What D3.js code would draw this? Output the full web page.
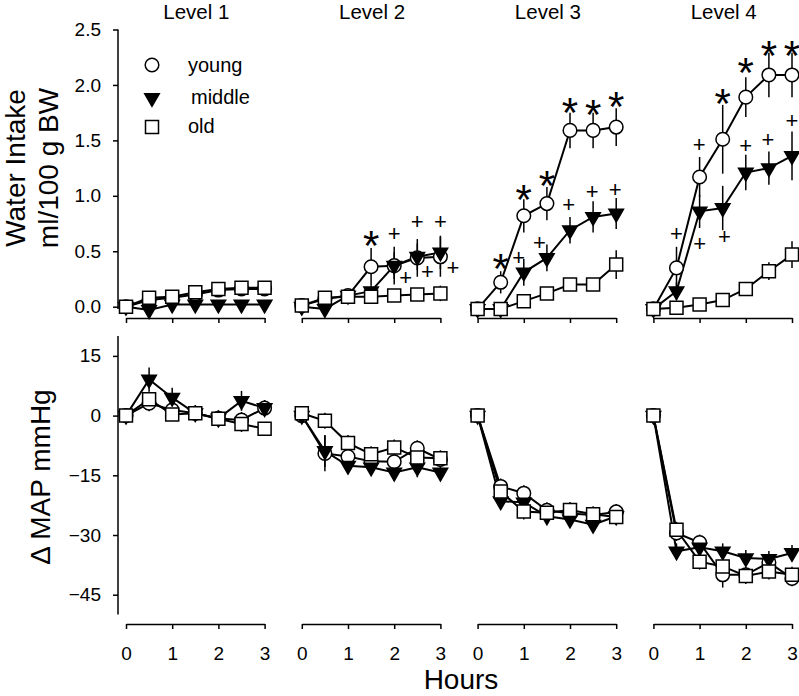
<!DOCTYPE html>
<html>
<head>
<meta charset="utf-8">
<script src="https://cdn.jsdelivr.net/npm/d3@7"></script>
<style>
  html, body { margin: 0; padding: 0; background: #fff; }
  svg { display: block; }
  text { font-family: "Liberation Sans", Arial, sans-serif; fill: #000; }
</style>
</head>
<body>
<svg id="chart" width="799" height="696"></svg>
<script>
// ---------------- DATA ----------------
const hours = [0, 0.5, 1, 1.5, 2, 2.5, 3];
const levels = ["Level 1", "Level 2", "Level 3", "Level 4"];
const groups = ["young", "middle", "old"];
const waterTicks = [0, 0.5, 1.0, 1.5, 2.0, 2.5];
const mapTicks = [15, 0, -15, -30, -45];
const hourTicks = [0, 1, 2, 3];

// Water intake (ml/100 g BW), one row per level
const waterYoung = [
  [0, 0.06, 0.08, 0.11, 0.15, 0.16, 0.16],
  [0.01, 0.07, 0.10, 0.36, 0.37, 0.44, 0.45],
  [-0.02, 0.22, 0.82, 0.93, 1.59, 1.59, 1.62],
  [-0.02, 0.35, 1.17, 1.51, 1.89, 2.09, 2.09]
];
const waterYoungErr = [
  [0.02, 0.04, 0.04, 0.05, 0.05, 0.05, 0.05],
  [0.02, 0.03, 0.03, 0.17, 0.17, 0.17, 0.18],
  [0.02, 0.10, 0.15, 0.15, 0.16, 0.16, 0.17],
  [0.02, 0.19, 0.18, 0.31, 0.18, 0.20, 0.20]
];
const waterMiddle = [
  [0, -0.03, 0.02, 0.02, 0.02, 0.02, 0.02],
  [0, -0.02, 0.10, 0.14, 0.37, 0.45, 0.49],
  [-0.02, -0.02, 0.31, 0.44, 0.69, 0.81, 0.84],
  [-0.02, 0.14, 0.86, 0.89, 1.21, 1.25, 1.36]
];
const waterMiddleErr = [
  [0.01, 0.02, 0.02, 0.02, 0.02, 0.02, 0.02],
  [0.02, 0.03, 0.03, 0.05, 0.12, 0.12, 0.15],
  [0.02, 0.02, 0.12, 0.12, 0.12, 0.14, 0.14],
  [0.02, 0.08, 0.15, 0.20, 0.16, 0.15, 0.22]
];
const waterOld = [
  [0, 0.08, 0.09, 0.13, 0.16, 0.17, 0.17],
  [0.01, 0.08, 0.09, 0.09, 0.10, 0.11, 0.12],
  [-0.02, -0.02, 0.05, 0.12, 0.20, 0.20, 0.38],
  [-0.02, -0.01, 0.02, 0.06, 0.16, 0.32, 0.47]
];
const waterOldErr = [
  [0.02, 0.03, 0.04, 0.05, 0.05, 0.06, 0.06],
  [0.02, 0.03, 0.03, 0.04, 0.04, 0.04, 0.07],
  [0.02, 0.03, 0.03, 0.04, 0.05, 0.05, 0.13],
  [0.02, 0.02, 0.03, 0.04, 0.05, 0.08, 0.12]
];

// Change in MAP (mmHg)
const mapYoung = [
  [0, 3.1, 1.4, 0.6, -0.7, -1.1, 1.9],
  [0, -9.5, -10.3, -11.5, -11.6, -8.2, -11.0],
  [0, -17.8, -19.5, -23.8, -24.6, -25.0, -24.2],
  [0, -29.5, -31.9, -40.0, -40.0, -36.9, -40.9]
];
const mapYoungErr = [
  [1.5, 2, 2, 2, 2, 2, 2],
  [1.5, 4.5, 2, 2, 2, 2, 2],
  [1.5, 2, 2, 2, 2, 2, 2],
  [1.5, 2, 2, 3.2, 2, 2, 2]
];
const mapMiddle = [
  [0, 9.1, 4.5, 0.6, -0.7, 3.7, 1.9],
  [0, -8.9, -12.6, -13.0, -14.3, -13.0, -14.3],
  [0, -21.5, -21.8, -25.3, -26.1, -27.4, -25.3],
  [0, -34.1, -33.1, -34.1, -35.8, -36.0, -34.5]
];
const mapMiddleErr = [
  [1.5, 3, 2.5, 2, 2, 2.5, 2],
  [1.5, 4, 2, 2, 2, 2.5, 2],
  [1.5, 2, 2, 2, 2, 2, 2],
  [1.5, 2, 2, 2, 2, 2, 2]
];
const mapOld = [
  [0, 4.1, 0.3, 0.6, -0.8, -2.1, -3.3],
  [0.6, -1.3, -6.9, -9.7, -8.0, -10.5, -10.7],
  [0, -19.1, -24.1, -24.4, -23.7, -24.8, -25.5],
  [0, -28.7, -36.7, -37.9, -40.3, -39.2, -40.0]
];
const mapOldErr = [
  [1.5, 2, 1.5, 1.5, 2, 2, 1.5],
  [1.5, 2, 2, 2, 2, 2, 2],
  [1.5, 2, 2, 2, 2, 2, 2],
  [1.5, 2, 2, 2, 2, 2, 2]
];

// significance marks [level index, hour, value]
const starMarks = [
  [1, 1.5, 0.66],
  [2, 0.5, 0.45], [2, 1, 1.07], [2, 1.5, 1.2], [2, 2, 1.86], [2, 2.5, 1.84], [2, 3, 1.91],
  [3, 1.5, 1.94], [3, 2, 2.22], [3, 2.5, 2.37], [3, 3, 2.37]
];
const plusMarks = [
  [1, 2, 0.66], [1, 2.5, 0.77], [1, 3, 0.77], [1, 2.25, 0.26], [1, 2.72, 0.32], [1, 3.27, 0.35],
  [2, 0.89, 0.44], [2, 1.34, 0.58], [2, 1.97, 0.92], [2, 2.48, 1.04], [2, 2.98, 1.06],
  [3, 0.5, 0.66], [3, 0.99, 1.46], [3, 1.0, 0.57], [3, 1.54, 0.63], [3, 2.0, 1.45], [3, 2.48, 1.51], [3, 3.0, 1.68]
];

// ---------------- LAYOUT ----------------
const svg = d3.select("#chart");
const FONT = '"Liberation Sans", Arial, sans-serif';
const panelStep = 175.8, panelX0 = 126, panelW = 138.6;
const yAxisX = 118;

const yWater = d3.scaleLinear().domain([0, 2.5]).range([306.7, 29.5]);
const yMap = d3.scaleLinear().domain([-45, 15]).range([594.7, 355.9]);
const topAxisY = 318, botAxisY = 624;

const xScales = levels.map((_, i) =>
  d3.scaleLinear().domain([0, 3]).range([panelX0 + i * panelStep, panelX0 + i * panelStep + panelW]));

// marker generators
const sym = {
  young: d3.symbol().type(d3.symbolCircle).size(Math.PI * 6.8 * 6.8),
  middle: d3.symbol().type(d3.symbolTriangle).size(Math.sqrt(3) / 4 * 14.5 * 14.5),
  old: d3.symbol().type(d3.symbolSquare).size(13 * 13)
};
function drawMarker(g, type, x, y) {
  const p = g.append("path")
    .attr("d", sym[type]())
    .attr("stroke", "#000")
    .attr("stroke-width", 1.5)
    .attr("fill", type === "middle" ? "#000" : "#fff");
  if (type === "middle") p.attr("transform", `translate(${x},${y}) rotate(180)`);
  else p.attr("transform", `translate(${x},${y})`);
}

// ---------------- AXES ----------------
const gyTop = svg.append("g").attr("transform", `translate(${yAxisX},0)`)
  .call(d3.axisLeft(yWater).tickValues(waterTicks).tickFormat(d3.format(".1f")).tickSize(5).tickPadding(12).tickSizeOuter(0));
gyTop.select(".domain").attr("d", `M0,${yWater(-0.02)}V${yWater(2.5)}`);
const gyBot = svg.append("g").attr("transform", `translate(${yAxisX},0)`)
  .call(d3.axisLeft(yMap).tickValues(mapTicks).tickFormat(d3.format("d")).tickSize(5).tickPadding(12).tickSizeOuter(0));
gyBot.select(".domain").attr("d", `M0,${yMap(20)}V${yMap(-50)}`);

[gyTop, gyBot].forEach(g => {
  g.selectAll(".domain, line").attr("stroke", "#000").attr("stroke-width", 1.5);
  g.selectAll("text").attr("font-family", FONT).attr("font-size", 19).attr("fill", "#000");
});

xScales.forEach((xs, i) => {
  const gt = svg.append("g").attr("transform", `translate(0,${topAxisY})`)
    .call(d3.axisBottom(xs).tickValues(hourTicks).tickFormat("").tickSize(5).tickSizeOuter(0));
  const gb = svg.append("g").attr("transform", `translate(0,${botAxisY})`)
    .call(d3.axisBottom(xs).tickValues(hourTicks).tickFormat(d3.format("d")).tickSize(5).tickPadding(18).tickSizeOuter(0));
  [gt, gb].forEach(g => {
    g.selectAll(".domain, line").attr("stroke", "#000").attr("stroke-width", 1.5);
    g.selectAll("text").attr("font-family", FONT).attr("font-size", 19).attr("fill", "#000");
  });
  svg.append("text")
    .attr("x", (xs.range()[0] + xs.range()[1]) / 2 + 1)
    .attr("y", 19)
    .attr("text-anchor", "middle")
    .attr("font-size", 20.5)
    .text(levels[i]);
});

// axis titles
svg.append("text")
  .attr("transform", `translate(25,${168}) rotate(-90)`)
  .attr("text-anchor", "middle").attr("font-size", 28).text("Water Intake");
svg.append("text")
  .attr("transform", `translate(58,${168}) rotate(-90)`)
  .attr("text-anchor", "middle").attr("font-size", 28).text("ml/100 g BW");
svg.append("text")
  .attr("transform", `translate(50,${477}) rotate(-90)`)
  .attr("text-anchor", "middle").attr("font-size", 28).text("\u0394 MAP mmHg");
svg.append("text")
  .attr("x", 461).attr("y", 689)
  .attr("text-anchor", "middle").attr("font-size", 28).text("Hours");

// ---------------- DATA MARKS ----------------
const waterSets = { young: [waterYoung, waterYoungErr], middle: [waterMiddle, waterMiddleErr], old: [waterOld, waterOldErr] };
const mapSets = { young: [mapYoung, mapYoungErr], middle: [mapMiddle, mapMiddleErr], old: [mapOld, mapOldErr] };
const drawOrder = ["young", "middle", "old"];

function drawPanel(xs, ys, sets, li) {
  const g = svg.append("g");
  drawOrder.forEach(grp => {
    const vals = sets[grp][0][li], errs = sets[grp][1][li];
    hours.forEach((h, k) => {
      g.append("line")
        .attr("x1", xs(h)).attr("x2", xs(h))
        .attr("y1", ys(vals[k] - errs[k])).attr("y2", ys(vals[k] + errs[k]))
        .attr("stroke", "#000").attr("stroke-width", 1.5);
    });
  });
  drawOrder.forEach(grp => {
    const vals = sets[grp][0][li];
    const line = d3.line().x((d, k) => xs(hours[k])).y(d => ys(d));
    g.append("path").attr("d", line(vals)).attr("fill", "none")
      .attr("stroke", "#000").attr("stroke-width", 2);
  });
  drawOrder.forEach(grp => {
    const vals = sets[grp][0][li];
    hours.forEach((h, k) => drawMarker(g, grp, xs(h), ys(vals[k])));
  });
}

xScales.forEach((xs, li) => {
  drawPanel(xs, yWater, waterSets, li);
  drawPanel(xs, yMap, mapSets, li);
});

starMarks.forEach(([li, h, v]) => {
  svg.append("text")
    .attr("x", xScales[li](h)).attr("y", yWater(v))
    .attr("dy", "0.62em")
    .attr("text-anchor", "middle")
    .attr("font-size", 42)
    .text("*");
});
plusMarks.forEach(([li, h, v]) => {
  svg.append("text")
    .attr("x", xScales[li](h)).attr("y", yWater(v))
    .attr("dy", "0.34em")
    .attr("text-anchor", "middle")
    .attr("font-size", 22)
    .text("+");
});

// ---------------- LEGEND ----------------
const legendRows = [
  ["young", 65, 188, 71.5],
  ["middle", 98, 191, 104],
  ["old", 127, 188, 133]
];
legendRows.forEach(([grp, my, tx, ty]) => {
  drawMarker(svg, grp, 152, my);
  svg.append("text").attr("x", tx).attr("y", ty).attr("font-size", 20).text(grp);
});
</script>
</body>
</html>
